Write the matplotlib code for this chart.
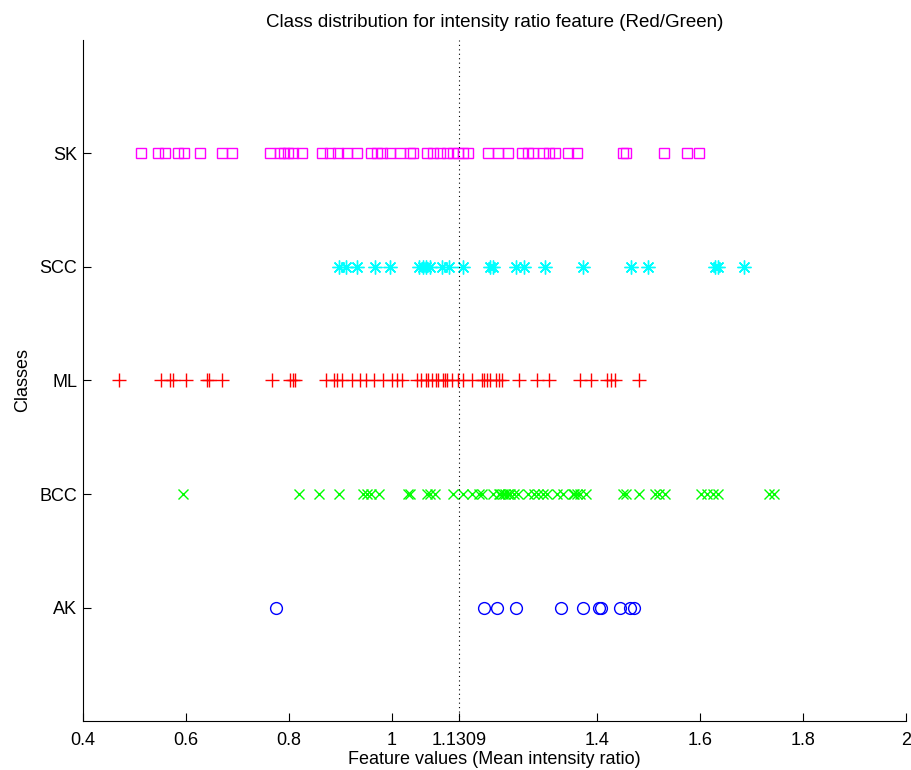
import numpy as np
import matplotlib.pyplot as plt

plt.rcParams['font.family'] = ['Liberation Sans', 'DejaVu Sans']

classes = ['AK', 'BCC', 'ML', 'SCC', 'SK']
threshold = 1.1309

ak = [0.776, 1.179, 1.204, 1.242, 1.330, 1.372, 1.403, 1.407, 1.444, 1.463, 1.471]

bcc = [0.595, 0.820, 0.859, 0.898, 0.945, 0.953, 0.960, 0.976, 1.031, 1.036,
       1.069, 1.075, 1.085, 1.120, 1.139, 1.157, 1.169, 1.176, 1.198, 1.208,
       1.211, 1.217, 1.221, 1.227, 1.231, 1.237, 1.245, 1.266, 1.276, 1.285,
       1.295, 1.303, 1.322, 1.334, 1.352, 1.354, 1.361, 1.367, 1.377, 1.449,
       1.455, 1.480, 1.513, 1.519, 1.531, 1.601, 1.614, 1.624, 1.634, 1.733,
       1.743]

ml = [0.470, 0.552, 0.569, 0.575, 0.600, 0.641, 0.645, 0.671, 0.768, 0.803,
      0.809, 0.813, 0.873, 0.888, 0.894, 0.904, 0.923, 0.939, 0.951, 0.966,
      0.984, 1.001, 1.011, 1.021, 1.050, 1.058, 1.066, 1.071, 1.079, 1.087,
      1.091, 1.099, 1.104, 1.108, 1.118, 1.130, 1.139, 1.157, 1.176, 1.180,
      1.186, 1.192, 1.202, 1.208, 1.215, 1.248, 1.283, 1.305, 1.367, 1.387,
      1.418, 1.427, 1.435, 1.480]

scc = [0.897, 0.912, 0.933, 0.967, 0.997, 1.054, 1.061, 1.067, 1.074, 1.097,
       1.111, 1.138, 1.192, 1.198, 1.241, 1.257, 1.298, 1.372, 1.466, 1.499,
       1.629, 1.635, 1.685]

sk = [0.513, 0.546, 0.560, 0.585, 0.597, 0.628, 0.671, 0.690, 0.764, 0.783,
      0.791, 0.799, 0.809, 0.826, 0.865, 0.881, 0.896, 0.914, 0.933, 0.959,
      0.972, 0.982, 0.997, 1.017, 1.036, 1.042, 1.069, 1.081, 1.095, 1.108,
      1.120, 1.130, 1.139, 1.149, 1.188, 1.206, 1.227, 1.254, 1.266, 1.274,
      1.295, 1.305, 1.318, 1.342, 1.361, 1.449, 1.455, 1.529, 1.575, 1.597]

xticks = [0.4, 0.6, 0.8, 1, threshold, 1.4, 1.6, 1.8, 2]
xticklabels = ['0.4', '0.6', '0.8', '1', '1.1309', '1.4', '1.6', '1.8', '2']

fig = plt.figure(figsize=(9.11, 7.7), dpi=100)
ax = fig.add_axes([0.0911, 0.0636, 0.9034, 0.8845])

ax.plot(ak, np.full(len(ak), 1), 'o', color='#0000ff', mfc='none', ms=8.5, mew=1)
ax.plot(bcc, np.full(len(bcc), 2), 'x', color='#00ff00', ms=6.5, mew=1)
ax.plot(ml, np.full(len(ml), 3), '+', color='#ff0000', ms=10, mew=1)
ax.plot(scc, np.full(len(scc), 4), marker=(8, 2, 0), ls='none', color='#00ffff', ms=10, mew=1)
ax.plot(sk, np.full(len(sk), 5), 's', color='#ff00ff', mfc='none', ms=7, mew=1)

ax.axvline(threshold, color='k', ls=(0, (1, 3)), lw=0.8)

ax.set_xlim(0.4, 2)
ax.set_ylim(0, 6)
ax.set_xticks(xticks)
ax.set_xticklabels(xticklabels)
ax.set_yticks([1, 2, 3, 4, 5])
ax.set_yticklabels(classes)
ax.tick_params(direction='in', length=6, width=0.8, labelsize=13)
ax.tick_params(axis='x', pad=8)
ax.tick_params(axis='y', pad=4)
ax.spines['top'].set_visible(False)
ax.spines['right'].set_visible(False)

ax.set_xlabel('Feature values (Mean intensity ratio)', fontsize=13, labelpad=1)
ax.set_ylabel('Classes', fontsize=13, labelpad=6)
ax.set_title('Class distribution for intensity ratio feature (Red/Green)', fontsize=13.5, pad=9)

fig.savefig('out.png', dpi=100)
